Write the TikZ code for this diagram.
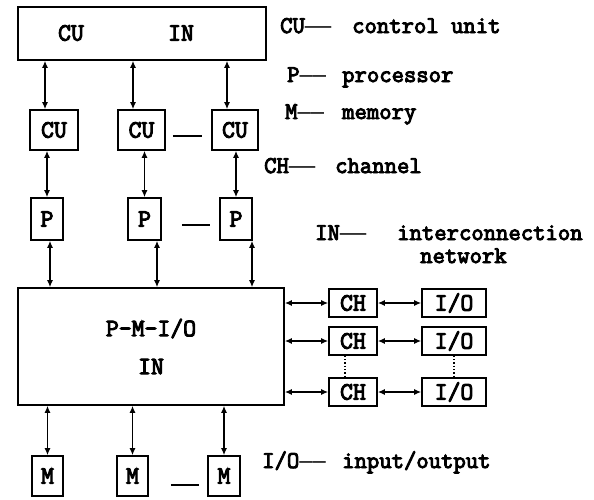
\documentclass[tikz,border=0pt]{standalone}
\usepackage{fontspec}
\setmonofont{Latin Modern Mono}[FakeBold=4]
\newfontfamily\dashfont{DejaVu Sans Mono}
\newcommand{\ldash}{{\dashfont\fontsize{22}{22}\selectfont ——}}
\usetikzlibrary{arrows.meta}

\begin{document}
\begin{tikzpicture}[
  x=1pt, y=-1pt,
  >={Latex[length=7pt,width=6pt]},
  box/.style={draw, line width=1.6pt, inner sep=0pt,
    font=\ttfamily\fontsize{25}{28}\selectfont},
  lbl/.style={inner sep=0pt, font=\ttfamily\fontsize{25}{28}\selectfont},
  link/.style={<->, line width=1.3pt},
  more/.style={line width=1.3pt},
  leg/.style={anchor=base west, inner sep=0pt,
    font=\ttfamily\fontsize{24}{27}\selectfont},
]
  \useasboundingbox (0,0) rectangle (594,499);

  % control unit network
  \node[box, minimum width=248pt, minimum height=53pt] (top) at (142,33.5) {};
  \node[lbl] (topcu) at (71,33) {CU};
  \node[lbl] (topin) at (181,33) {IN};

  \node[box, minimum width=48pt, minimum height=40pt] (cu1) at (54,130) {CU};
  \node[box, minimum width=47pt, minimum height=40pt] (cu2) at (141.5,130) {CU};
  \node[box, minimum width=46pt, minimum height=40pt] (cu3) at (235,130) {CU};

  \node[box, minimum width=32pt, minimum height=42pt] (p1) at (47,219) {P};
  \node[box, minimum width=33pt, minimum height=42pt] (p2) at (144.5,219) {P};
  \node[box, minimum width=32pt, minimum height=42pt] (p3) at (236,219) {P};

  \node[box, align=center, minimum width=266pt, minimum height=117pt] (pmio)
    at (151,346.5) {P-M-I/O\\[10pt]IN};

  \node[box, minimum width=31pt, minimum height=40pt] (m1) at (47.5,476) {M};
  \node[box, minimum width=31pt, minimum height=40pt] (m2) at (132.5,476) {M};
  \node[box, minimum width=32pt, minimum height=40pt] (m3) at (224,476) {M};

  % channels and i/o
  \node[box, minimum width=48pt, minimum height=28pt] (ch1) at (353,303) {CH};
  \node[box, minimum width=48pt, minimum height=28pt] (ch2) at (353,341) {CH};
  \node[box, minimum width=48pt, minimum height=28pt] (ch3) at (353,392) {CH};
  \node[box, minimum width=64pt, minimum height=28pt] (io1) at (454,303) {I/O};
  \node[box, minimum width=64pt, minimum height=28pt] (io2) at (454,341) {I/O};
  \node[box, minimum width=64pt, minimum height=28pt] (io3) at (454,392) {I/O};

  \draw[link] ([xshift=-9pt]cu1.north) -- ([xshift=-9pt]cu1.north |- top.south);
  \draw[link] ([xshift=-8.5pt]cu2.north) -- ([xshift=-8.5pt]cu2.north |- top.south);
  \draw[link] ([xshift=-8pt]cu3.north) -- ([xshift=-8pt]cu3.north |- top.south);

  \draw[link] (p1.north) -- (p1.north |- cu1.south);
  \draw[link] (p2.north) -- (p2.north |- cu2.south);
  \draw[link] (p3.north) -- (p3.north |- cu3.south);

  \draw[link] ([xshift=3pt]p1.south) -- ([xshift=3pt]p1.south |- pmio.north);
  \draw[link] ([xshift=12.5pt]p2.south) -- ([xshift=12.5pt]p2.south |- pmio.north);
  \draw[link] ([xshift=16pt]p3.south) -- ([xshift=16pt]p3.south |- pmio.north);

  \draw[link] (m1.north) -- (m1.north |- pmio.south);
  \draw[link] (m2.north) -- (m2.north |- pmio.south);
  \draw[link] (m3.north) -- (m3.north |- pmio.south);

  \draw[link] (pmio.east |- ch1.west) -- (ch1.west);
  \draw[link] (pmio.east |- ch2.west) -- (ch2.west);
  \draw[link] (pmio.east |- ch3.west) -- (ch3.west);
  \draw[link] (ch1) -- (io1);
  \draw[link] (ch2) -- (io2);
  \draw[link] (ch3) -- (io3);

  \draw[more] ([xshift=7pt,yshift=-6pt]cu2.east) -- ([xshift=-9pt,yshift=-6pt]cu3.west);
  \draw[more] ([xshift=20pt,yshift=-6pt]p2.east) -- ([xshift=-9pt,yshift=-6pt]p3.west);
  \draw[more] ([xshift=22pt,yshift=-9pt]m2.east) -- ([xshift=-8pt,yshift=-9pt]m3.west);
  \draw[more, dotted] ([xshift=-8pt]ch2.south) -- ([xshift=-8pt]ch3.north);
  \draw[more, dotted] (io2.south) -- (io3.north);

  % legend
  \node[leg] (legcu) at (280,33) {\makebox[72pt][l]{CU\ldash}control unit};
  \node[leg] (legp) at (287,82) {\makebox[55pt][l]{P\ldash}processor};
  \node[leg] (legm) at (285,119) {\makebox[57pt][l]{M\ldash}memory};
  \node[leg] (legch) at (264,173) {\makebox[71pt][l]{CH\ldash}channel};
  \node[leg] (legin) at (315,240) {\makebox[82pt][l]{IN\ldash}interconnection};
  \node[leg] (legnet) at (420,263) {network};
  \node[leg] (legio) at (262,468) {\makebox[80pt][l]{I/O\ldash}input/output};
\end{tikzpicture}
\end{document}
